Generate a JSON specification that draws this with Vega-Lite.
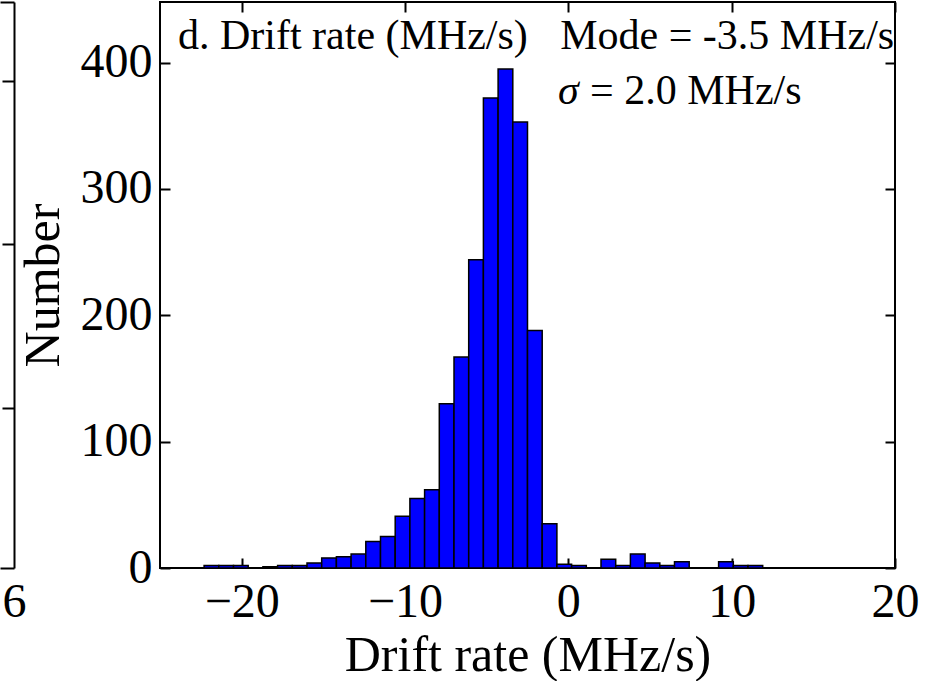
{
  "$schema": "https://vega.github.io/schema/vega-lite/v6.json",
  "autosize": {"type": "pad"},
  "padding": 0,
  "background": "white",
  "datasets": {
    "hist": [
      {"start": -22.3, "end": -21.4, "count": 2},
      {"start": -21.4, "end": -20.5, "count": 2},
      {"start": -20.5, "end": -19.6, "count": 2},
      {"start": -18.7, "end": -17.8, "count": 1},
      {"start": -17.8, "end": -16.9, "count": 2},
      {"start": -16.9, "end": -16.0, "count": 2},
      {"start": -16.0, "end": -15.1, "count": 4},
      {"start": -15.1, "end": -14.2, "count": 8},
      {"start": -14.2, "end": -13.3, "count": 9},
      {"start": -13.3, "end": -12.4, "count": 11},
      {"start": -12.4, "end": -11.5, "count": 21},
      {"start": -11.5, "end": -10.6, "count": 25},
      {"start": -10.6, "end": -9.7, "count": 41},
      {"start": -9.7, "end": -8.8, "count": 55},
      {"start": -8.8, "end": -7.9, "count": 62},
      {"start": -7.9, "end": -7.0, "count": 130},
      {"start": -7.0, "end": -6.1, "count": 167},
      {"start": -6.1, "end": -5.2, "count": 244},
      {"start": -5.2, "end": -4.3, "count": 372},
      {"start": -4.3, "end": -3.4, "count": 395},
      {"start": -3.4, "end": -2.5, "count": 353},
      {"start": -2.5, "end": -1.6, "count": 188},
      {"start": -1.6, "end": -0.7, "count": 35},
      {"start": -0.7, "end": 0.2, "count": 3},
      {"start": 0.2, "end": 1.1, "count": 2},
      {"start": 2.0, "end": 2.9, "count": 7},
      {"start": 2.9, "end": 3.8, "count": 2},
      {"start": 3.8, "end": 4.7, "count": 11},
      {"start": 4.7, "end": 5.6, "count": 4},
      {"start": 5.6, "end": 6.5, "count": 2},
      {"start": 6.5, "end": 7.4, "count": 5},
      {"start": 9.2, "end": 10.1, "count": 5},
      {"start": 10.1, "end": 11.0, "count": 2},
      {"start": 11.0, "end": 11.9, "count": 2}
    ],
    "leftpanel": [{"v": 6, "n": 1}],
    "notes": [{"note": 1}]
  },
  "config": {
    "axis": {
      "labelFont": "Liberation Serif",
      "titleFont": "Liberation Serif",
      "labelColor": "black",
      "titleColor": "black",
      "titleFontWeight": "normal",
      "grid": false,
      "labelFlush": false,
      "tickColor": "black",
      "domainColor": "black",
      "labelOverlap": false
    }
  },
  "hconcat": [
    {
      "width": 14,
      "height": 566,
      "view": {"stroke": null},
      "data": {"name": "leftpanel"},
      "layer": [
        {
          "mark": {"type": "point", "opacity": 0},
          "encoding": {
            "x": {"field": "v", "type": "quantitative", "scale": {"domain": [5.9, 6]},
              "axis": {"orient": "bottom", "values": [6], "format": "d", "ticks": false, "domain": true, "domainWidth": 2, "labelFontSize": 48, "labelPadding": 10, "title": null}},
            "y": {"field": "n", "type": "quantitative", "scale": {"domain": [0.022, 3.482]},
              "axis": {"orient": "right", "values": [1, 2, 3], "tickSize": -12, "tickWidth": 2, "labels": false, "domain": true, "domainWidth": 2, "title": null}}
          }
        },
        {
          "mark": {"type": "point", "opacity": 0},
          "encoding": {
            "x": {"field": "v", "type": "quantitative",
              "axis": {"orient": "top", "labels": false, "ticks": false, "domain": true, "domainWidth": 2, "title": null}}
          }
        }
      ],
      "resolve": {"axis": {"x": "independent", "y": "independent"}}
    },
    {
      "width": 735,
      "height": 566,
      "view": {"stroke": "black", "strokeWidth": 2},
      "layer": [
        {
          "data": {"name": "hist"},
          "mark": {"type": "bar", "fill": "#0000ff", "stroke": "black", "strokeWidth": 1.5},
          "encoding": {
            "x": {"field": "start", "type": "quantitative", "scale": {"domain": [-25, 20], "nice": false},
              "axis": {"orient": "bottom", "values": [-20, -10, 0, 10, 20], "tickSize": -10, "tickWidth": 2, "domain": false,
                "labelFontSize": 48, "labelPadding": 20, "title": "Drift rate (MHz/s)", "titleFontSize": 50, "titlePadding": 4}},
            "x2": {"field": "end"},
            "y": {"field": "count", "type": "quantitative", "scale": {"domain": [0, 448], "nice": false},
              "axis": {"orient": "left", "values": [0, 100, 200, 300, 400], "tickSize": -10, "tickWidth": 2, "domain": false,
                "labelFontSize": 48, "labelPadding": 18, "title": "Number", "titleFontSize": 50, "titlePadding": 12}},
            "y2": {"datum": 0}
          }
        },
        {
          "data": {"name": "hist"},
          "mark": {"type": "bar", "opacity": 0},
          "encoding": {
            "x": {"field": "start", "type": "quantitative",
              "axis": {"orient": "top", "values": [-20, -10, 0, 10, 20], "tickSize": -10, "tickWidth": 2, "domain": false, "labels": false, "title": null}},
            "x2": {"field": "end"},
            "y": {"field": "count", "type": "quantitative",
              "axis": {"orient": "right", "values": [0, 100, 200, 300, 400], "tickSize": -10, "tickWidth": 2, "domain": false, "labels": false, "title": null}},
            "y2": {"datum": 0}
          }
        },
        {
          "data": {"name": "notes"},
          "mark": {"type": "text", "text": "d. Drift rate (MHz/s)", "font": "Liberation Serif", "fontSize": 42, "align": "left", "baseline": "alphabetic", "color": "black"},
          "encoding": {
            "x": {"datum": -23.9, "type": "quantitative", "axis": null},
            "y": {"datum": 410.8, "type": "quantitative", "axis": null}
          }
        },
        {
          "data": {"name": "notes"},
          "mark": {"type": "text", "text": "Mode = -3.5 MHz/s", "font": "Liberation Serif", "fontSize": 42, "align": "left", "baseline": "alphabetic", "color": "black"},
          "encoding": {
            "x": {"datum": -0.5, "type": "quantitative", "axis": null},
            "y": {"datum": 410.8, "type": "quantitative", "axis": null}
          }
        },
        {
          "data": {"name": "notes"},
          "mark": {"type": "text", "text": "σ", "font": "Liberation Serif", "fontSize": 42, "fontStyle": "italic", "align": "left", "baseline": "alphabetic", "color": "black"},
          "encoding": {
            "x": {"datum": -0.63, "type": "quantitative", "axis": null},
            "y": {"datum": 367.3, "type": "quantitative", "axis": null}
          }
        },
        {
          "data": {"name": "notes"},
          "mark": {"type": "text", "text": "= 2.0 MHz/s", "font": "Liberation Serif", "fontSize": 42, "align": "left", "baseline": "alphabetic", "color": "black"},
          "encoding": {
            "x": {"datum": 1.33, "type": "quantitative", "axis": null},
            "y": {"datum": 367.3, "type": "quantitative", "axis": null}
          }
        }
      ],
      "resolve": {"axis": {"x": "independent", "y": "independent"}}
    }
  ],
  "spacing": 146,
  "bounds": "flush"
}
